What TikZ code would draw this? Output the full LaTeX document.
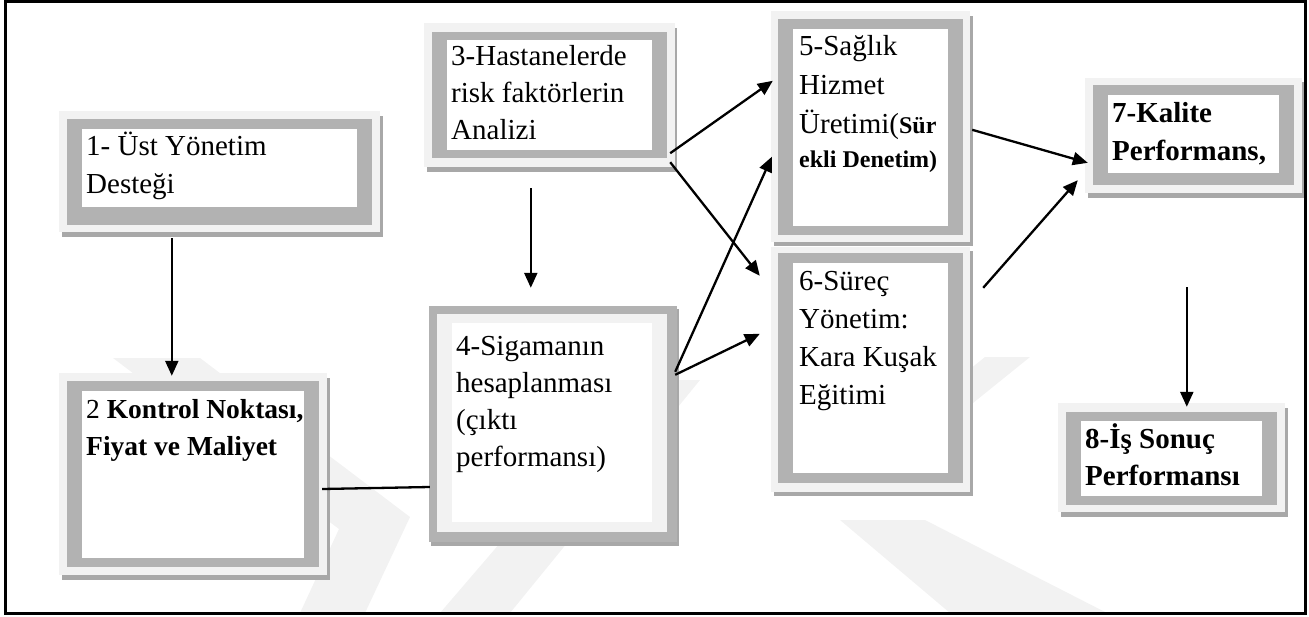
\documentclass[tikz,border=0pt]{standalone}
\usepackage{fontspec}
\setmainfont{Liberation Serif}
\usetikzlibrary{arrows.meta,calc,fit}
\definecolor{panellight}{HTML}{F2F2F2}
\definecolor{panelband}{HTML}{B2B2B2}
\definecolor{panelshade}{HTML}{A8A8A8}
\definecolor{markgray}{HTML}{F2F2F2}
\tikzset{
  lightpart/.style={fill=panellight},
  bandpart/.style={fill=panelband},
  shadepart/.style={fill=panelshade},
  whitepart/.style={fill=white},
  markpart/.style={fill=markgray},
  panel/.style={inner sep=0pt, draw=none},
  txt/.style={inner sep=0pt, anchor=base west},
  link/.style={line width=2.3pt},
  arr/.style={link, -{Triangle[length=15pt,width=13pt]}},
}
% text block whose baseline is that of its first line
\newcommand\textblock[2]{\vtop{\baselineskip=#1pt #2}}
\begin{document}
\begin{tikzpicture}[x=1pt,y=-1pt]
\useasboundingbox (0,0) rectangle (1309,616);

% faint background emblem
\fill[markpart] (113,358) -- (200,358) -- (410,517) -- (365,613) -- (300,613) -- (339,529) -- cycle;
\fill[markpart] (440,613) -- (510,613) -- (700,380) -- (640,380) -- cycle;
\fill[markpart] (985,357) -- (1030,357) -- (890,470) -- (845,470) -- cycle;
\fill[markpart] (840,520) -- (925,520) -- (1107,613) -- (950,613) -- cycle;

% outer frame
\draw[line width=3pt] (5.5,1.5) rectangle (1305.5,613);

% panel 1
\fill[shadepart] (62,116) rectangle (383,237);
\fill[lightpart] (59,111) rectangle (380,232);
\fill[bandpart] (67,119) rectangle (372,225);
\fill[whitepart] (82,129) rectangle (357,207);
\node[panel, fit={(59,111)(380,232)}] (b1) {};

% panel 2
\fill[shadepart] (62,378) rectangle (330,580);
\fill[lightpart] (59,373) rectangle (327,575);
\fill[bandpart] (67,381) rectangle (319,567);
\fill[whitepart] (82,391) rectangle (304,558);
\node[panel, fit={(59,373)(327,575)}] (b2) {};

% panel 3
\fill[shadepart] (427,28) rectangle (677,172);
\fill[lightpart] (424,23) rectangle (675,167);
\fill[bandpart] (432,32) rectangle (667,158);
\fill[whitepart] (447,40) rectangle (652,150);
\node[panel, fit={(424,23)(675,167)}] (b3) {};

% panel 4 (dark rim outside, light rim inside)
\fill[shadepart] (431,309) rectangle (679,546);
\fill[bandpart] (429,306) rectangle (677,542);
\fill[lightpart] (437,314) rectangle (667,532);
\fill[whitepart] (452,323) rectangle (652,522);
\node[panel, fit={(429,306)(677,542)}] (b4) {};

% panel 5
\fill[shadepart] (774,16) rectangle (973,246);
\fill[lightpart] (771,11) rectangle (970,242);
\fill[bandpart] (778,19) rectangle (963,235);
\fill[whitepart] (793,29) rectangle (948,226);
\node[panel, fit={(771,11)(970,242)}] (b5) {};

% panel 6
\fill[shadepart] (774,251) rectangle (973,496);
\fill[lightpart] (771,247) rectangle (970,492);
\fill[bandpart] (778,253) rectangle (963,483);
\fill[whitepart] (793,263) rectangle (948,473);
\node[panel, fit={(771,247)(970,492)}] (b6) {};

% panel 7
\fill[shadepart] (1088,82) rectangle (1304,198);
\fill[lightpart] (1085,78) rectangle (1302,193);
\fill[bandpart] (1093,85) rectangle (1294,185);
\fill[whitepart] (1108,95) rectangle (1279,173);
\node[panel, fit={(1085,78)(1302,193)}] (b7) {};

% panel 8
\fill[shadepart] (1061,408) rectangle (1288,517);
\fill[lightpart] (1058,403) rectangle (1285,512);
\fill[bandpart] (1066,412) rectangle (1277,505);
\fill[whitepart] (1081,421) rectangle (1262,496);
\node[panel, fit={(1058,403)(1285,512)}] (b8) {};

% labels
\node[txt, font=\fontsize{29}{38}\selectfont] (t1) at (86,155)
  {\textblock{38}{\hbox{1- Üst Yönetim}\hbox{Desteği}}};
\node[txt, font=\fontsize{27.5}{37}\selectfont] (t2) at (86,418)
  {\textblock{37}{\hbox{2 \textbf{Kontrol Noktası,}}\hbox{\textbf{Fiyat ve Maliyet}}}};
\node[txt, font=\fontsize{29}{37}\selectfont] (t3) at (451,65)
  {\textblock{37}{\hbox{3-Hastanelerde}\hbox{risk faktörlerin}\hbox{Analizi}}};
\node[txt, font=\fontsize{29}{37}\selectfont] (t4) at (456,355)
  {\textblock{37}{\hbox{4-Sigamanın}\hbox{hesaplanması}\hbox{(çıktı}\hbox{performansı)}}};
\node[txt, font=\fontsize{29}{39}\selectfont] (t5) at (799,55)
  {\textblock{39}{\hbox{5-Sağlık}\hbox{Hizmet}\hbox{Üretimi(\fontsize{24}{30}\selectfont\bfseries Sür}\vskip-5pt
   \hbox{\fontsize{24}{30}\selectfont\bfseries ekli Denetim)}}};
\node[txt, font=\fontsize{29}{38}\selectfont] (t6) at (799,290)
  {\textblock{38.3}{\hbox{6-Süreç}\hbox{Yönetim:}\hbox{Kara Kuşak}\hbox{Eğitimi}}};
\node[txt, font=\fontsize{29}{38}\selectfont\bfseries] (t7) at (1112,122)
  {\textblock{38}{\hbox{7-Kalite}\hbox{Performans,}}};
\node[txt, font=\fontsize{29}{37}\selectfont\bfseries] (t8) at (1085,448)
  {\textblock{37}{\hbox{8-İş Sonuç}\hbox{Performansı}}};

% connectors
\draw[arr] ($(b1.south west)+(113,6)$) -- ($(b2.north west)+(113,3)$);
\draw[arr] ($(b3.south west)+(107,21)$) -- ($(b4.north west)+(102,-18)$);
\draw[link] ($(b2.east)+(-5,15)$) -- ($(b4.west)+(1,63)$);
\draw[arr] ($(b3.south east)+(-5,-14)$) -- ($(b5.north west)+(2,70)$);
\draw[arr] ($(b3.south east)+(-5,-5)$) -- ($(b6.north west)+(-11,29)$);
\draw[arr] ($(b4.north east)+(-2,66)$) -- ($(b5.north west)+(1,146)$);
\draw[arr] ($(b4.north east)+(-2,69)$) -- ($(b6.north west)+(-11,87)$);
\draw[arr] ($(b5.north east)+(2,119)$) -- ($(b7.north west)+(3,85)$);
\draw[arr] ($(b6.north east)+(13,41)$) -- ($(b7.south west)+(-7,-13)$);
\draw[arr] ($(b7.south west)+(102,94)$) -- ($(b8.north west)+(129,4)$);
\end{tikzpicture}
\end{document}
